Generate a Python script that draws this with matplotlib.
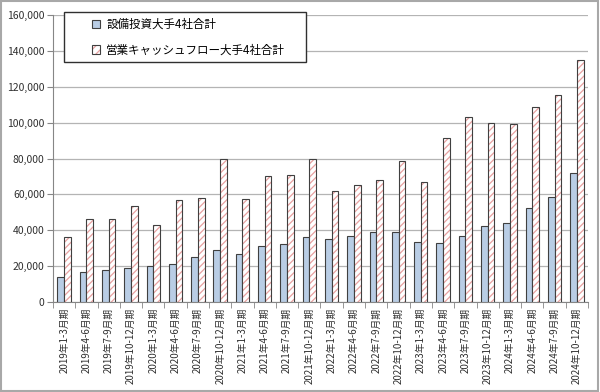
import matplotlib.pyplot as plt
from matplotlib.patches import Rectangle, Patch
from matplotlib.legend_handler import HandlerTuple
import numpy as np

plt.rcParams['font.family'] = ['Noto Sans CJK JP', 'DejaVu Sans']
plt.rcParams['hatch.linewidth'] = 0.9

periods = ['2019年1-3月期', '2019年4-6月期', '2019年7-9月期', '2019年10-12月期',
           '2020年1-3月期', '2020年4-6月期', '2020年7-9月期', '2020年10-12月期',
           '2021年1-3月期', '2021年4-6月期', '2021年7-9月期', '2021年10-12月期',
           '2022年1-3月期', '2022年4-6月期', '2022年7-9月期', '2022年10-12月期',
           '2023年1-3月期', '2023年4-6月期', '2023年7-9月期', '2023年10-12月期',
           '2024年1-3月期', '2024年4-6月期', '2024年7-9月期', '2024年10-12月期']
capex = [14000, 17000, 18000, 19000, 20000, 21000, 25000, 29000,
         27000, 31000, 32500, 36000, 35000, 36700, 39000, 39000,
         33500, 32800, 36700, 42500, 44000, 52400, 58400, 72000]
op_cf = [36500, 46000, 46000, 53500, 43000, 57000, 58000, 79500,
         57500, 70500, 71000, 79600, 61800, 65300, 67900, 78500,
         66800, 91300, 103000, 99700, 99100, 108500, 115400, 134900]
labels = ['設備投資大手4社合計', '営業キャッシュフロー大手4社合計']
yticks = np.arange(0, 160001, 20000)

blue = '#b9cde5'
pink = '#e8a0a0'
edge = '#404040'

fig = plt.figure(figsize=(6, 3.92), dpi=100)
ax = fig.add_axes([53/600, 1-302/392, 535/600, 287/392])

x = np.arange(len(periods))
w = 0.3
ax.bar(x - w/2, capex, w, color=blue, edgecolor=edge, linewidth=0.8, zorder=3)
# hatch drawn in pink, outline drawn on top in dark grey
ax.bar(x + w/2, op_cf, w, color='white', edgecolor=pink, linewidth=0,
       hatch='/////', zorder=3)
ax.bar(x + w/2, op_cf, w, fill=False, edgecolor=edge, linewidth=0.8, zorder=4)

ax.set_xlim(-0.5, len(periods) - 0.5)
ax.set_ylim(0, 160000)
ax.set_yticks(yticks)
ax.set_yticklabels([f'{v:,}' for v in yticks], fontsize=7.5, color='#303030')
ax.set_xticks(x)
ax.set_xticklabels(periods, rotation=90, fontsize=7, color='#303030')
ax.set_xticks(np.arange(-0.5, len(periods)), minor=True)
ax.tick_params(axis='x', which='major', length=0, pad=4)
ax.tick_params(axis='x', which='minor', length=4, color='#868686')
ax.tick_params(axis='y', length=4, color='#868686', pad=2)
ax.grid(axis='y', color='#b4b4b4', linewidth=0.9, zorder=0)
for s in ['top', 'right']:
    ax.spines[s].set_visible(False)
for s in ['left', 'bottom']:
    ax.spines[s].set_color('#868686')

# legend box
fig.patches.append(Rectangle((64/600, 1-62/392), 242/600, 50/392,
                             transform=fig.transFigure, facecolor='white',
                             edgecolor='#303030', linewidth=1.0, zorder=5))
h_blue = Patch(facecolor=blue, edgecolor=edge, linewidth=0.8)
h_pink = (Patch(facecolor='white', edgecolor=pink, hatch='////', linewidth=0),
          Patch(fill=False, edgecolor=edge, linewidth=0.8))
leg = fig.legend([h_blue, h_pink], labels, loc='upper left',
                 bbox_to_anchor=(86/600, 1-12/392), fontsize=8.3, frameon=False,
                 handlelength=0.75, handleheight=0.75, handletextpad=0.5,
                 labelspacing=1.1, borderpad=0.5, borderaxespad=0,
                 handler_map={tuple: HandlerTuple(ndivide=1, pad=0)})
leg.set_zorder(6)

fig.patches.append(Rectangle((0.002, 0.003), 0.995, 0.994, transform=fig.transFigure,
                             fill=False, edgecolor='#a8a8a8', linewidth=1.5))

fig.savefig('out.png', dpi=100)
